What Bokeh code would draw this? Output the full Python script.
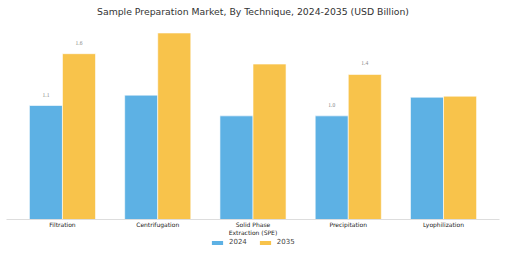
from bokeh.plotting import figure
from bokeh.layouts import column
from bokeh.models import ColumnDataSource, FactorRange, Range1d, Legend, LegendItem, LabelSet
from bokeh.transform import dodge
from bokeh.embed import file_html
from bokeh.resources import INLINE

categories = ["Filtration", "Centrifugation", "Solid Phase\nExtraction (SPE)", "Precipitation", "Lyophilization"]
values_2024 = [1.1, 1.2, 1.0, 1.0, 1.18]
values_2035 = [1.6, 1.8, 1.5, 1.4, 1.19]
labels_2024 = ["1.1", "", "", "1.0", ""]
labels_2035 = ["1.6", "", "", "1.4", ""]
series_names = ["2024", "2035"]
colors = ["#5DB1E4", "#F8C34B"]

FONT = "DejaVu Sans"

src = ColumnDataSource(dict(cat=categories, v24=values_2024, v35=values_2035,
                            l24=labels_2024, l35=labels_2035))

xr = FactorRange(factors=categories, range_padding=0.035)

p = figure(width=505, height=238, output_backend="svg", toolbar_location=None,
           x_range=xr, y_range=Range1d(0, 1.93),
           title="Sample Preparation Market, By Technique, 2024-2035 (USD Billion)",
           min_border_left=6, min_border_right=6, min_border_top=0, min_border_bottom=18)

p.title.align = "center"
p.title.text_font = FONT
p.title.text_font_size = "9.3px"
p.title.text_font_style = "normal"
p.title.text_color = "#333333"
p.title.standoff = 6

bw = 0.347
r1 = p.vbar(x=dodge("cat", -bw / 2, range=xr), top="v24", width=bw, source=src,
            fill_color=colors[0], line_color="white", line_width=0.6)
r2 = p.vbar(x=dodge("cat", bw / 2, range=xr), top="v35", width=bw, source=src,
            fill_color=colors[1], line_color="white", line_width=0.6)

for xoff, col in [(-bw / 2, "v24"), (bw / 2, "v35")]:
    lab = "l24" if col == "v24" else "l35"
    ls = LabelSet(x=dodge("cat", xoff, range=xr), y=col, text=lab, source=src,
                  text_align="center", text_baseline="bottom", y_offset=9,
                  text_font=FONT, text_font_size="5.5px", text_color="#888888")
    p.add_layout(ls)

p.yaxis.visible = False
p.xgrid.grid_line_color = None
p.ygrid.grid_line_color = None
p.outline_line_color = None

ax = p.xaxis[0]
ax.axis_line_color = "#DDDDDD"
ax.axis_line_width = 1
ax.major_tick_line_color = None
ax.minor_tick_line_color = None
ax.major_tick_out = 0
ax.major_tick_in = 0
ax.major_label_text_font = FONT
ax.major_label_text_font_size = "6px"
ax.major_label_text_color = "#222222"
ax.major_label_standoff = 1

# legend strip below the chart; its bars lie below its visible y range
lg = figure(width=505, height=15, output_backend="svg", toolbar_location=None,
            x_range=xr, y_range=Range1d(5, 6), min_border=0)
lg.axis.visible = False
lg.grid.grid_line_color = None
lg.outline_line_color = None
g1 = lg.vbar(x=dodge("cat", -bw / 2, range=xr), top="v24", width=bw, source=src,
             fill_color=colors[0], line_color=None)
g2 = lg.vbar(x=dodge("cat", bw / 2, range=xr), top="v35", width=bw, source=src,
             fill_color=colors[1], line_color=None)

legend = Legend(items=[LegendItem(label=series_names[0], renderers=[g1]),
                       LegendItem(label=series_names[1], renderers=[g2])],
                orientation="horizontal", location=(204, 7),
                glyph_width=14, glyph_height=5, spacing=11,
                label_width=5, label_height=8,
                label_text_font=FONT, label_text_font_size="7px",
                label_standoff=5, padding=0, margin=0,
                border_line_color=None, background_fill_alpha=0)
lg.add_layout(legend)

layout = column(p, lg, spacing=0)
open("out.html", "w").write(file_html(layout, INLINE))
